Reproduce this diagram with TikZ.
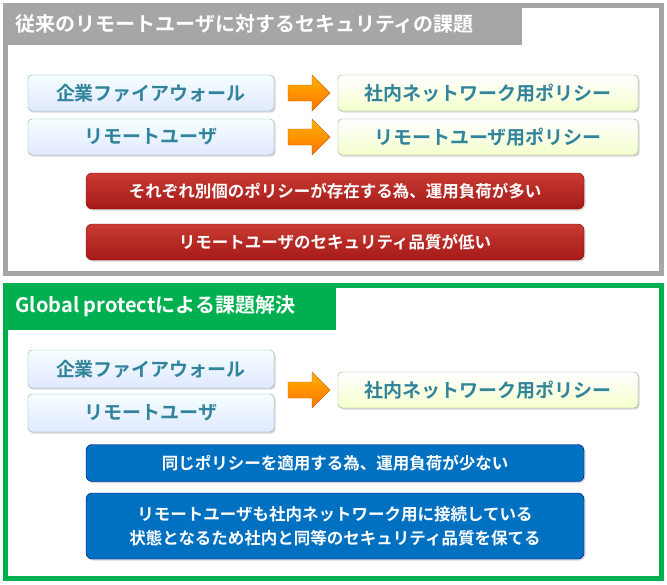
\documentclass[tikz,border=0pt]{standalone}
\usepackage{fontspec}
\setmainfont{Noto Sans CJK JP}[BoldFont={Noto Sans CJK JP Bold}]
\usetikzlibrary{shadows}
\definecolor{gframe}{HTML}{A6A6A6}
\definecolor{grn}{HTML}{00B050}
\definecolor{lbtext}{HTML}{31849B}
\tikzset{
 lbox/.style={draw=cyan!50!black!60,rounded corners=4pt,top color=cyan!4,bottom color=cyan!25!blue!12,
  minimum width=246pt,minimum height=36pt,font=\bfseries\fontsize{19}{22}\selectfont,text=lbtext,drop shadow={opacity=0.3,shadow xshift=1.5pt,shadow yshift=-1.5pt}},
 gbox/.style={draw=green!40!black!50,rounded corners=4pt,top color=white,bottom color=green!20!yellow!20,
  minimum width=300pt,minimum height=36pt,font=\bfseries\fontsize{19}{22}\selectfont,text=lbtext,drop shadow={opacity=0.3,shadow xshift=1.5pt,shadow yshift=-1.5pt}},
 rbox/.style={draw=red!60!black,rounded corners=6pt,top color={rgb,255:red,200;green,60;blue,50},bottom color={rgb,255:red,165;green,25;blue,25},
  minimum width=498pt,minimum height=36pt,font=\bfseries\fontsize{16.5}{20}\selectfont,text=white,drop shadow={opacity=0.3,shadow xshift=1.5pt,shadow yshift=-1.5pt}},
 bbox/.style={draw=blue!60!black,rounded corners=6pt,fill={rgb,255:red,0;green,112;blue,192},
  minimum width=498pt,minimum height=37pt,font=\bfseries\fontsize{16.5}{24}\selectfont,text=white,align=center,drop shadow={opacity=0.3,shadow xshift=1.5pt,shadow yshift=-1.5pt}},
 oarrow/.style={draw=orange!80!black,top color=orange!60!yellow,bottom color=orange!90!red},
 ttl/.style={anchor=west,text=white,font=\bfseries\fontsize{20}{24}\selectfont}
}
\newcommand\orarrow[2]{\draw[oarrow] (#1-20,#2-8) -- (#1+4,#2-8) -- (#1+4,#2-18) -- (#1+22,#2) -- (#1+4,#2+18) -- (#1+4,#2+8) -- (#1-20,#2+8) -- cycle;}
\begin{document}
\begin{tikzpicture}[x=1pt,y=-1pt]
\useasboundingbox (0,0) rectangle (667,584);
\fill[white] (0,0) rectangle (667,584);
\draw[gframe,line width=5pt] (5,5) rectangle (661,273);
\fill[gframe] (3,3) rectangle (522,45);
\node[ttl] (t1) at (12,24) {従来のリモートユーザに対するセキュリティの課題};
\node[lbox] (a1) at (151,93) {企業ファイアウォール};
\node[lbox] (a2) at (151,137) {リモートユーザ};
\node[gbox] (b1) at (488,93) {社内ネットワーク用ポリシー};
\node[gbox] (b2) at (488,137) {リモートユーザ用ポリシー};
\orarrow{308}{93}
\orarrow{308}{137}
\node[rbox] (r1) at (335,191) {それぞれ別個のポリシーが存在する為、運用負荷が多い};
\node[rbox] (r2) at (335,242) {リモートユーザのセキュリティ品質が低い};
\draw[grn,line width=5pt] (5,285) rectangle (661,578);
\fill[grn] (3,283) rectangle (336,330);
\node[ttl] (t2) at (12,306) {Global protectによる課題解決};
\node[lbox,minimum height=38pt] (c1) at (151,369) {企業ファイアウォール};
\node[lbox,minimum height=38pt] (c2) at (151,413) {リモートユーザ};
\node[gbox] (d1) at (488,390) {社内ネットワーク用ポリシー};
\orarrow{308}{390}
\node[bbox] (e1) at (335,463) {同じポリシーを適用する為、運用負荷が少ない};
\node[bbox,minimum height=66pt] (e2) at (335,526) {リモートユーザも社内ネットワーク用に接続している\\状態となるため社内と同等のセキュリティ品質を保てる};
\end{tikzpicture}
\end{document}
